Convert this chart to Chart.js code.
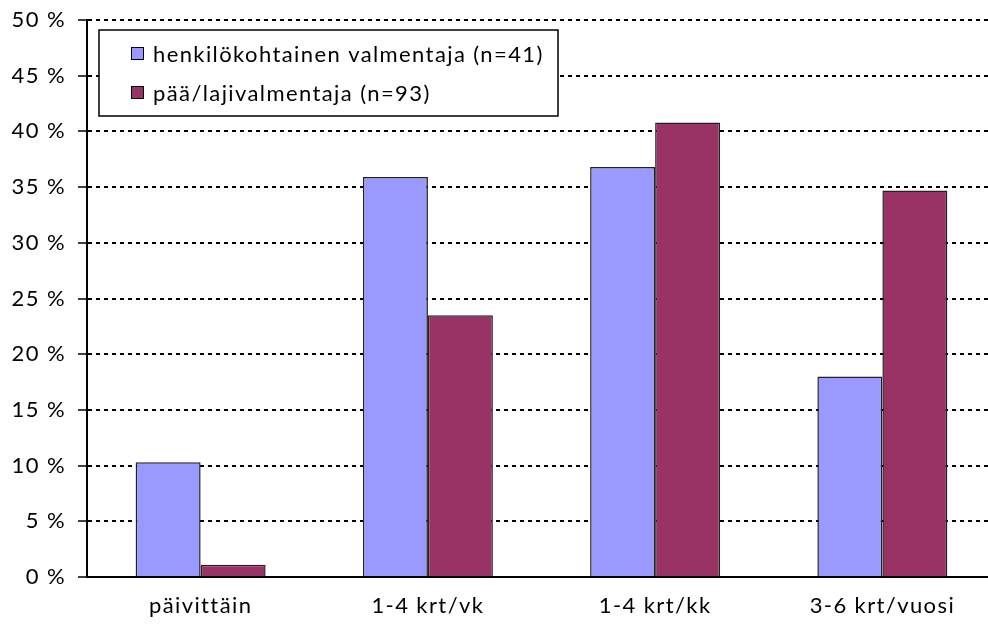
<!DOCTYPE html>
<html>
<head>
<meta charset="utf-8">
<script src="https://cdn.jsdelivr.net/npm/chart.js@4/dist/chart.umd.min.js"></script>
<style>
    html, body { margin: 0; padding: 0; background: #fff; overflow: hidden; }
    #wrap { width: 1000px; height: 633px; }
</style>
</head>
<body>
<div id="wrap"><canvas id="myChart" width="1000" height="633"></canvas></div>
<script>
const categories = ['päivittäin', '1-4 krt/vk', '1-4 krt/kk', '3-6 krt/vuosi'];
const seriesNames = ['henkilökohtainen valmentaja (n=41)', 'pää/lajivalmentaja (n=93)'];
const personalCoach = [10.3, 35.9, 36.8, 18.0];
const headCoach = [1.1, 23.5, 40.8, 34.7];
const yTicks = [0, 5, 10, 15, 20, 25, 30, 35, 40, 45, 50];

const fontName = 'Lato, "DejaVu Sans", sans-serif';

// the original font is wider, so space the letters a bit
const spacing = {
    id: 'spacing',
    beforeUpdate(chart) { chart.ctx.letterSpacing = '1.4px'; },
    beforeDraw(chart) { chart.ctx.letterSpacing = '1.4px'; }
};

// legend box drawn inside the plot, like the original
const boxLegend = {
    id: 'boxLegend',
    afterDraw(chart) {
        const ctx = chart.ctx;
        const area = chart.chartArea;
        const x = area.left + 12;
        const y = area.top + 10;
        const w = 459, h = 86;
        ctx.save();
        ctx.fillStyle = '#fff';
        ctx.fillRect(x, y, w, h);
        ctx.strokeStyle = '#000';
        ctx.lineWidth = 1.5;
        ctx.strokeRect(x, y, w, h);
        ctx.font = '22px ' + fontName;
        ctx.textBaseline = 'middle';
        chart.data.datasets.forEach(function(ds, i) {
            const cy = y + 23 + i * 39;
            ctx.fillStyle = ds.backgroundColor;
            ctx.fillRect(x + 32, cy - 6, 13, 13);
            ctx.lineWidth = 1;
            ctx.strokeStyle = '#000';
            ctx.strokeRect(x + 32.5, cy - 5.5, 12, 12);
            ctx.fillStyle = '#000';
            ctx.fillText(ds.label, x + 54, cy + 2);
        });
        ctx.restore();
    }
};

const ctx = document.getElementById('myChart').getContext('2d');

new Chart(ctx, {
    type: 'bar',
    data: {
        labels: categories,
        datasets: [
            {
                label: seriesNames[0],
                data: personalCoach,
                backgroundColor: '#9999FF',
                borderColor: '#222',
                borderWidth: 1.5,
                borderSkipped: 'bottom'
            },
            {
                label: seriesNames[1],
                data: headCoach,
                backgroundColor: '#993366',
                borderColor: '#222',
                borderWidth: 1.5,
                borderSkipped: 'bottom'
            }
        ]
    },
    options: {
        responsive: false,
        animation: false,
        categoryPercentage: 0.572,
        barPercentage: 1.0,
        layout: {
            padding: { top: 20, right: 4, left: 0, bottom: 0 }
        },
        plugins: {
            legend: { display: false },
            tooltip: { enabled: false }
        },
        scales: {
            x: {
                grid: { display: false, drawTicks: false },
                border: { display: true, color: '#000', width: 2 },
                ticks: {
                    color: '#000',
                    padding: 16,
                    font: { family: fontName, size: 22 }
                },
                afterFit: function(scale) { scale.height = 56; }
            },
            y: {
                min: 0,
                max: 50,
                afterBuildTicks: function(scale) {
                    scale.ticks = yTicks.map(v => ({ value: v }));
                },
                grid: {
                    color: '#000',
                    lineWidth: 2,
                    tickColor: '#000',
                    tickLength: 9,
                    tickWidth: 1.5
                },
                border: { display: true, color: '#000', width: 2, dash: [4, 4] },
                ticks: {
                    color: '#000',
                    padding: 12,
                    font: { family: fontName, size: 22 },
                    callback: function(v) { return v + ' %'; }
                },
                afterFit: function(scale) {
                    scale.width = 87;
                    scale.paddingTop = 0;
                    scale.paddingBottom = 0;
                }
            }
        }
    },
    plugins: [spacing, boxLegend]
});
</script>
</body>
</html>
